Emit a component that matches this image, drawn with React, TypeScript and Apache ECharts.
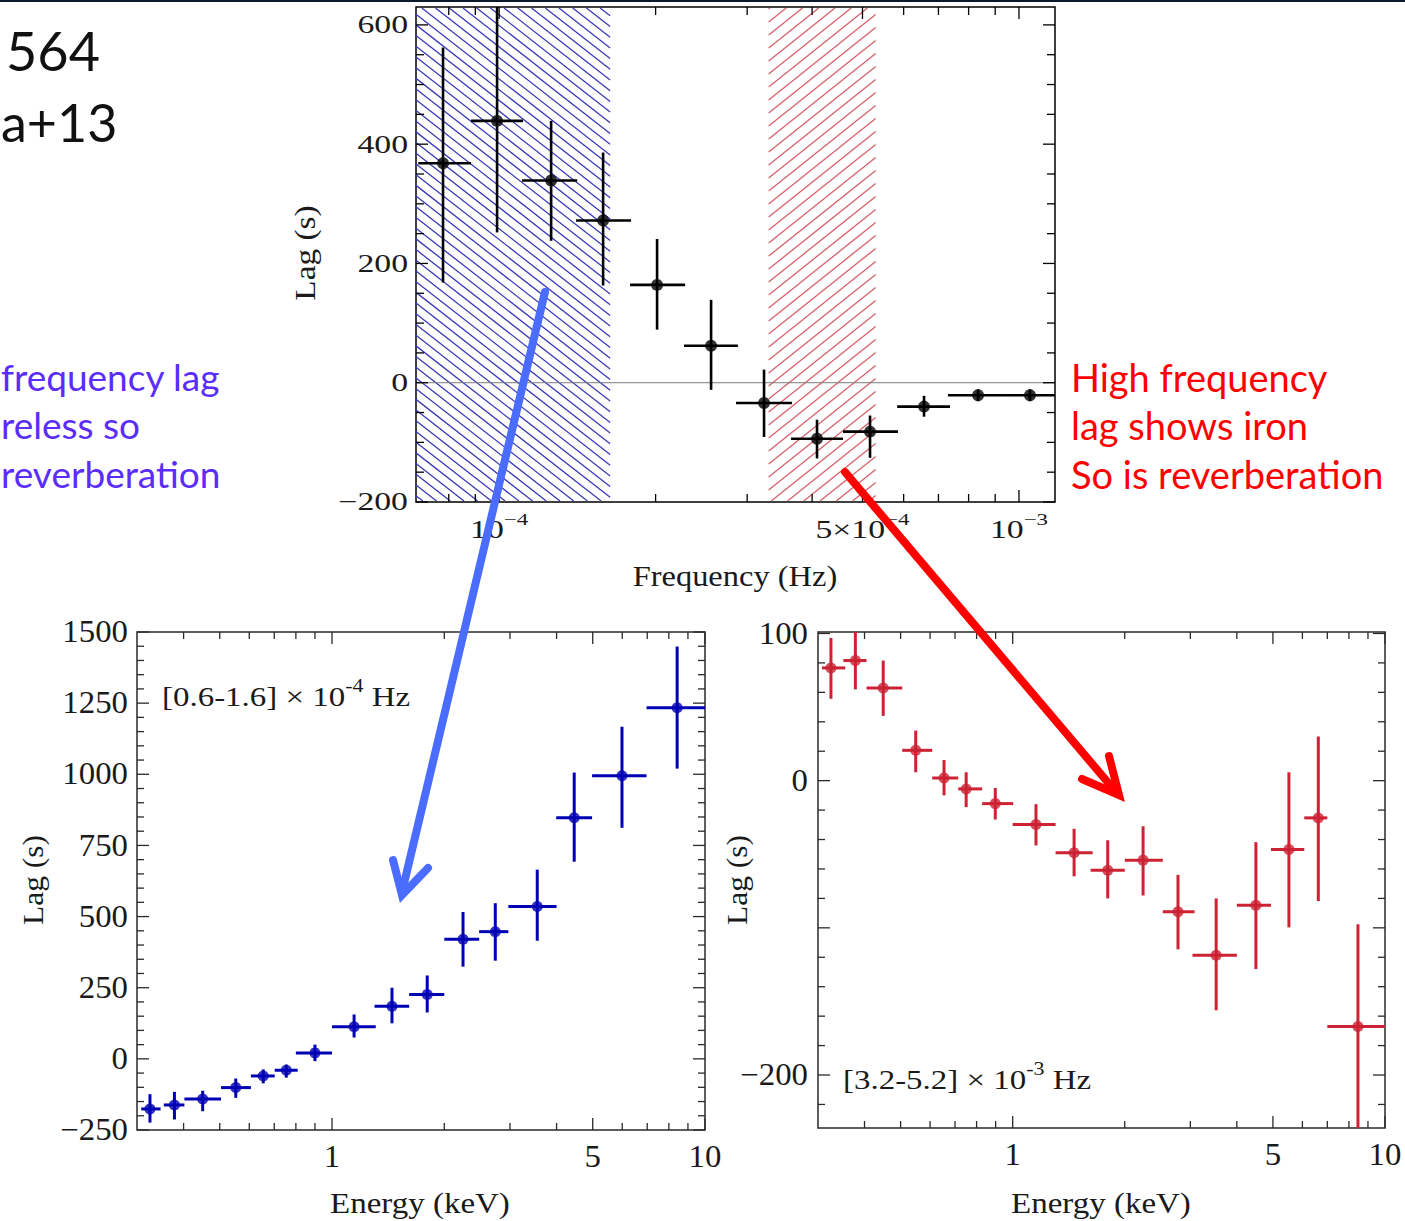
import React, { useEffect, useRef } from "react";
import * as echarts from "echarts";

// ---------------- Top panel: lag vs temporal frequency ----------------
const freqCenter = [7.8e-5, 9.91e-5, 1.259e-4, 1.585e-4, 2.013e-4, 2.557e-4, 3.233e-4, 4.088e-4, 5.17e-4, 6.567e-4, 8.342e-4, 1.05e-3];
const freqLow = [6.99e-5, 8.83e-5, 1.107e-4, 1.406e-4, 1.786e-4, 2.268e-4, 2.856e-4, 3.643e-4, 4.587e-4, 5.83e-4, 7.3e-4, 9.44e-4];
const freqHigh = [8.83e-5, 1.112e-4, 1.413e-4, 1.794e-4, 2.279e-4, 2.88e-4, 3.66e-4, 4.587e-4, 5.85e-4, 7.368e-4, 9.44e-4, 1.178e-3];
const freqLag = [368, 439, 339, 272, 164, 62, -34, -94, -82, -40, -21, -21];
const freqLagLow = [168, 252, 238, 163, 89, -12, -91, -127, -126, -57, -31, -31];
const freqLagHigh = [562, 650, 439, 386, 241, 139, 22, -62, -55, -22, -11, -11];
const lowFreqBand = [6.0e-5, 1.635e-4];
const highFreqBand = [3.3e-4, 5.3e-4];

const freqAxisRange = [6.92e-5, 1.173e-3];
const topLagRange = [-200, 630];
const freqMajorTicks = [1e-4, 5e-4, 1e-3];
const freqMinorTicks = [8e-5, 9e-5, 2e-4, 3e-4, 4e-4, 6e-4, 7e-4, 8e-4, 9e-4];
const freqTickLabels = [
  { value: 1e-4, base: "10", sup: "\u22124" },
  { value: 5e-4, base: "5\u00d710", sup: "\u22124" },
  { value: 1e-3, base: "10", sup: "\u22123" },
];
const topLagMajor = [-200, 0, 200, 400, 600];
const topLagMinor = [-150, -100, -50, 50, 100, 150, 250, 300, 350, 450, 500, 550];
const topLagLabels = [-200, 0, 200, 400, 600];

// ---------------- Bottom-left: lag-energy, [0.6-1.6]e-4 Hz ----------------
const lowEnergy = [0.325, 0.378, 0.45, 0.552, 0.654, 0.754, 0.9, 1.146, 1.448, 1.8, 2.245, 2.74, 3.55, 4.46, 5.99, 8.42];
const lowEnergyLo = [0.308, 0.354, 0.402, 0.504, 0.606, 0.702, 0.8, 1.0, 1.3, 1.61, 2.0, 2.48, 2.97, 3.99, 4.98, 6.97];
const lowEnergyHi = [0.347, 0.402, 0.504, 0.606, 0.702, 0.809, 1.0, 1.31, 1.61, 2.0, 2.48, 2.97, 4.0, 4.98, 6.97, 10.0];
const lowLag = [-176, -162, -141, -101, -60, -40, 21, 113, 185, 226, 420, 447, 535, 847, 995, 1234];
const lowLagLo = [-224, -213, -184, -137, -86, -66, -8, 75, 125, 163, 324, 345, 415, 693, 812, 1020];
const lowLagHi = [-124, -116, -112, -69, -37, -20, 50, 156, 250, 293, 516, 547, 665, 1006, 1167, 1449];

// ---------------- Bottom-right: lag-energy, [3.2-5.2]e-3 Hz ----------------
const highEnergy = [0.325, 0.378, 0.449, 0.549, 0.654, 0.75, 0.898, 1.155, 1.462, 1.8, 2.24, 2.78, 3.52, 4.5, 5.52, 6.62, 8.46];
const highEnergyLo = [0.3075, 0.351, 0.405, 0.505, 0.608, 0.714, 0.828, 1.0, 1.304, 1.62, 2.0, 2.53, 3.04, 4.0, 4.94, 6.07, 7.0];
const highEnergyHi = [0.355, 0.405, 0.505, 0.608, 0.714, 0.828, 1.003, 1.304, 1.64, 2.0, 2.53, 3.08, 4.0, 4.94, 6.07, 7.0, 10.0];
const highLag = [76.6, 81.6, 63, 20.6, 1.8, -5.6, -15.6, -29.8, -49, -60.8, -54, -89, -118.6, -84.7, -46.8, -25.3, -167];
const highLagLo = [55.6, 62, 44, 5.7, -10, -18, -26.4, -44, -65, -80, -78, -114.6, -156, -128, -99.7, -81.8, -245];
const highLagHi = [97, 103, 81.6, 34, 14, 5.7, -5, -16, -32.7, -40.5, -31, -64, -80, -41.8, 5.7, 30, -97.6];

const energyAxisRange = [0.3, 10];
const energyMajorTicks = [1, 5, 10];
const energyMinorTicks = [0.4, 0.5, 0.6, 0.7, 0.8, 0.9, 2, 3, 4, 6, 7, 8, 9];
const energyTickLabels = [
  { value: 1, base: "1" },
  { value: 5, base: "5" },
  { value: 10, base: "10" },
];
const lowLagRange = [-250, 1500];
const lowLagMajor = [-250, 0, 250, 500, 750, 1000, 1250, 1500];
const lowLagMinor = [-200, -150, -100, -50, 50, 100, 150, 200, 300, 350, 400, 450, 550, 600, 650, 700, 800, 850, 900, 950, 1050, 1100, 1150, 1200, 1300, 1350, 1400, 1450];
const lowLagLabels = [-250, 0, 250, 500, 750, 1000, 1250, 1500];
const highLagRange = [-236, 101];
const highLagMajor = [-200, -100, 0, 100];
const highLagMinor = [-220, -180, -160, -140, -120, -80, -60, -40, -20, 20, 40, 60, 80];
const highLagLabels = [-200, 0, 100];

// ---------------- Helpers ----------------
const SERIF = "Liberation Serif";
const SANS = "Lato";

let measureCtx: CanvasRenderingContext2D | null = null;
function textWidth(text: string, size: number, family: string): number {
  if (!measureCtx) measureCtx = document.createElement("canvas").getContext("2d");
  if (!measureCtx) return text.length * size * 0.5;
  measureCtx.font = `${size}px "${family}"`;
  return measureCtx.measureText(text).width;
}

type Part = { t: string; sup?: boolean };

function richText(
  x: number,
  y: number,
  parts: Part[],
  size: number,
  color: string,
  scaleX: number,
  align: "left" | "center" | "right",
  rotation = 0,
  z = 10
): any {
  const supSize = Math.round(size * 0.68);
  const widths = parts.map((p) => textWidth(p.t, p.sup ? supSize : size, SERIF));
  const total = widths.reduce((a, b) => a + b, 0);
  let cursor = align === "left" ? 0 : align === "center" ? -total / 2 : -total;
  const children = parts.map((p, i) => {
    const el = {
      type: "text",
      x: cursor,
      y: p.sup ? -size * 0.42 : 0,
      z,
      style: {
        text: p.t,
        fontSize: p.sup ? supSize : size,
        fontFamily: SERIF,
        fill: color,
        align: "left",
        verticalAlign: "middle",
      },
    };
    cursor += widths[i];
    return el;
  });
  return { type: "group", x, y, scaleX, rotation, z, children };
}

function fmtNum(v: number): string {
  return v < 0 ? "\u2212" + Math.abs(v) : String(v);
}

function hatchLines(L: number, T: number, R: number, B: number, slope: number, spacing: number) {
  const segs: number[][] = [];
  const cs = [T - slope * L, T - slope * R, B - slope * L, B - slope * R];
  const cMin = Math.min(...cs) - spacing;
  const cMax = Math.max(...cs) + spacing;
  const start = Math.floor(cMin / spacing) * spacing;
  for (let c = start; c <= cMax; c += spacing) {
    const xa = (T - c) / slope;
    const xb = (B - c) / slope;
    const x1 = Math.max(L, Math.min(xa, xb));
    const x2 = Math.min(R, Math.max(xa, xb));
    if (x2 > x1) segs.push([x1, slope * x1 + c, x2, slope * x2 + c]);
  }
  return segs;
}

function hatchSeries(band: number[], slope: number, spacing: number, color: string) {
  return {
    type: "custom",
    xAxisIndex: 0,
    yAxisIndex: 0,
    silent: true,
    z: 1,
    data: [[band[0], band[1]]],
    renderItem: (params: any, api: any) => {
      const cs = params.coordSys;
      const L = Math.max(cs.x, api.coord([api.value(0), 0])[0]);
      const R = Math.min(cs.x + cs.width, api.coord([api.value(1), 0])[0]);
      const T = cs.y + 1;
      const B = cs.y + cs.height - 1;
      const segs = hatchLines(L, T, R, B, slope, spacing);
      return {
        type: "group",
        children: segs.map((s) => ({
          type: "line",
          shape: { x1: s[0], y1: s[1], x2: s[2], y2: s[3] },
          style: { stroke: color, lineWidth: 1.3 },
        })),
      };
    },
  };
}

function errorSeries(idx: number, rows: number[][], color: string, width: number) {
  return {
    type: "custom",
    xAxisIndex: idx,
    yAxisIndex: idx,
    silent: true,
    z: 4,
    data: rows,
    renderItem: (params: any, api: any) => {
      const cs = params.coordSys;
      const L = cs.x, T = cs.y, R = cs.x + cs.width, B = cs.y + cs.height;
      const x = api.value(0), y = api.value(1);
      const c = api.coord([x, y]);
      const xl = Math.max(L, api.coord([api.value(2), y])[0]);
      const xh = Math.min(R, api.coord([api.value(3), y])[0]);
      const yl = Math.min(B, api.coord([x, api.value(4)])[1]);
      const yh = Math.max(T, api.coord([x, api.value(5)])[1]);
      return {
        type: "group",
        children: [
          { type: "line", shape: { x1: xl, y1: c[1], x2: xh, y2: c[1] }, style: { stroke: color, lineWidth: width } },
          { type: "line", shape: { x1: c[0], y1: yl, x2: c[0], y2: yh }, style: { stroke: color, lineWidth: width } },
        ],
      };
    },
  };
}

type FrameCfg = {
  xRef: number;
  yRef: number;
  xMajor: number[];
  xMinor: number[];
  yMajor: number[];
  yMinor: number[];
  xLabels: { value: number; base: string; sup?: string }[];
  yLabels: number[];
  color: string;
  labelColor: string;
  majorLen: number;
  minorLen: number;
  tickWidth: number;
  labelSize: number;
  labelScaleX: number;
  xLabelDy: number;
  yLabelGap: number;
  zeroLine?: boolean;
};

function frameSeries(idx: number, cfg: FrameCfg) {
  return {
    type: "custom",
    xAxisIndex: idx,
    yAxisIndex: idx,
    silent: true,
    z: 3,
    data: [[cfg.xRef, cfg.yRef]],
    renderItem: (params: any, api: any) => {
      const cs = params.coordSys;
      const L = cs.x, T = cs.y, R = cs.x + cs.width, B = cs.y + cs.height;
      const ch: any[] = [];
      const seg = (x1: number, y1: number, x2: number, y2: number, stroke: string, w: number) =>
        ch.push({ type: "line", shape: { x1, y1, x2, y2 }, style: { stroke, lineWidth: w } });
      if (cfg.zeroLine) {
        const py = api.coord([cfg.xRef, 0])[1];
        seg(L, py, R, py, "#7a7a7a", 1);
      }
      const xt = (v: number, len: number) => {
        const px = api.coord([v, cfg.yRef])[0];
        seg(px, B, px, B - len, cfg.color, cfg.tickWidth);
        seg(px, T, px, T + len, cfg.color, cfg.tickWidth);
      };
      cfg.xMajor.forEach((v) => xt(v, cfg.majorLen));
      cfg.xMinor.forEach((v) => xt(v, cfg.minorLen));
      const yt = (v: number, len: number) => {
        const py = api.coord([cfg.xRef, v])[1];
        seg(L, py, L + len, py, cfg.color, cfg.tickWidth);
        seg(R, py, R - len, py, cfg.color, cfg.tickWidth);
      };
      cfg.yMajor.forEach((v) => yt(v, cfg.majorLen));
      cfg.yMinor.forEach((v) => yt(v, cfg.minorLen));
      cfg.yLabels.forEach((v) => {
        const py = api.coord([cfg.xRef, v])[1];
        ch.push({
          type: "text",
          x: L - cfg.yLabelGap,
          y: py,
          scaleX: cfg.labelScaleX,
          style: {
            text: fmtNum(v),
            fontSize: cfg.labelSize,
            fontFamily: SERIF,
            fill: cfg.labelColor,
            align: "right",
            verticalAlign: "middle",
          },
        });
      });
      cfg.xLabels.forEach((lb) => {
        const px = api.coord([lb.value, cfg.yRef])[0];
        const parts: Part[] = [{ t: lb.base }];
        if (lb.sup) parts.push({ t: lb.sup, sup: true });
        ch.push(richText(px, B + cfg.xLabelDy, parts, cfg.labelSize, cfg.labelColor, cfg.labelScaleX, "center", 0, 3));
      });
      return { type: "group", children: ch };
    },
  };
}

function rows(c: number[], y: number[], xl: number[], xh: number[], yl: number[], yh: number[]) {
  return c.map((v, i) => [v, y[i], xl[i], xh[i], yl[i], yh[i]]);
}

const TOP_BLACK = "#000000";
const LOW_BLUE = "#0000b4";
const HIGH_RED = "#cc2233";

export default function App() {
  const ref = useRef<HTMLDivElement>(null);

  useEffect(() => {
    document.body.style.margin = "0";
    document.body.style.background = "#ffffff";
    if (!ref.current) return;
    const chart = echarts.init(ref.current, undefined, { renderer: "svg" });

    const bottomFrameBase = {
      color: "#2a2a2a",
      labelColor: "#1a1a1a",
      majorLen: 12,
      minorLen: 7,
      tickWidth: 1.3,
      labelSize: 31,
      labelScaleX: 1.06,
      xLabelDy: 27,
    };

    const option: any = {
      animation: false,
      grid: [
        { left: 416, top: 7, width: 639, height: 495, show: true, borderColor: "#000", borderWidth: 1.5 },
        { left: 137, top: 632, width: 568, height: 498, show: true, borderColor: "#2a2a2a", borderWidth: 1.5 },
        { left: 818, top: 632, width: 567, height: 496, show: true, borderColor: "#2a2a2a", borderWidth: 1.5 },
      ],
      xAxis: [
        { type: "log", logBase: 10, gridIndex: 0, min: freqAxisRange[0], max: freqAxisRange[1], show: false },
        { type: "log", logBase: 10, gridIndex: 1, min: energyAxisRange[0], max: energyAxisRange[1], show: false },
        { type: "log", logBase: 10, gridIndex: 2, min: energyAxisRange[0], max: energyAxisRange[1], show: false },
      ],
      yAxis: [
        { type: "value", gridIndex: 0, min: topLagRange[0], max: topLagRange[1], show: false },
        { type: "value", gridIndex: 1, min: lowLagRange[0], max: lowLagRange[1], show: false },
        { type: "value", gridIndex: 2, min: highLagRange[0], max: highLagRange[1], show: false },
      ],
      series: [
        hatchSeries(lowFreqBand, 0.78, 10.7, "#3a3ab8"),
        hatchSeries(highFreqBand, -0.8, 13, "#d8606c"),
        frameSeries(0, {
          xRef: freqCenter[0],
          yRef: 0,
          xMajor: freqMajorTicks,
          xMinor: freqMinorTicks,
          yMajor: topLagMajor,
          yMinor: topLagMinor,
          xLabels: freqTickLabels,
          yLabels: topLagLabels,
          color: "#000",
          labelColor: "#1a1a1a",
          majorLen: 12,
          minorLen: 8,
          tickWidth: 1.3,
          labelSize: 25,
          labelScaleX: 1.35,
          xLabelDy: 28,
          yLabelGap: 8,
          zeroLine: true,
        }),
        frameSeries(1, {
          ...bottomFrameBase,
          xRef: 1,
          yRef: 0,
          xMajor: energyMajorTicks,
          xMinor: energyMinorTicks,
          yMajor: lowLagMajor,
          yMinor: lowLagMinor,
          xLabels: energyTickLabels,
          yLabels: lowLagLabels,
          yLabelGap: 9,
        }),
        frameSeries(2, {
          ...bottomFrameBase,
          xRef: 1,
          yRef: 0,
          xMajor: energyMajorTicks,
          xMinor: energyMinorTicks,
          yMajor: highLagMajor,
          yMinor: highLagMinor,
          xLabels: energyTickLabels,
          yLabels: highLagLabels,
          yLabelGap: 10,
        }),
        errorSeries(0, rows(freqCenter, freqLag, freqLow, freqHigh, freqLagLow, freqLagHigh), TOP_BLACK, 2.6),
        errorSeries(1, rows(lowEnergy, lowLag, lowEnergyLo, lowEnergyHi, lowLagLo, lowLagHi), LOW_BLUE, 3),
        errorSeries(2, rows(highEnergy, highLag, highEnergyLo, highEnergyHi, highLagLo, highLagHi), HIGH_RED, 3),
        {
          type: "scatter",
          xAxisIndex: 0,
          yAxisIndex: 0,
          silent: true,
          z: 5,
          symbolSize: 12,
          itemStyle: { color: TOP_BLACK },
          data: freqCenter.map((f, i) => [f, freqLag[i]]),
        },
        {
          type: "scatter",
          xAxisIndex: 1,
          yAxisIndex: 1,
          silent: true,
          z: 5,
          symbolSize: 11,
          itemStyle: { color: LOW_BLUE },
          data: lowEnergy.map((e, i) => [e, lowLag[i]]),
        },
        {
          type: "scatter",
          xAxisIndex: 2,
          yAxisIndex: 2,
          silent: true,
          z: 5,
          symbolSize: 11,
          itemStyle: { color: HIGH_RED },
          data: highEnergy.map((e, i) => [e, highLag[i]]),
        },
      ],
      graphic: {
        elements: [
          { type: "rect", shape: { x: 0, y: 0, width: 1405, height: 2 }, style: { fill: "#0b1a2e" }, z: 50 },
          // slide texts
          { type: "text", x: 100, y: 50, style: { text: "564", fontSize: 54, fontFamily: SANS, fill: "#111111", align: "right", verticalAlign: "middle" } },
          { type: "text", x: 1, y: 122, style: { text: "a+13", fontSize: 52, fontFamily: SANS, fill: "#111111", align: "left", verticalAlign: "middle" } },
          { type: "text", x: 1, y: 376, style: { text: "frequency lag", fontSize: 37, fontFamily: SANS, fill: "#5a2dfa", align: "left", verticalAlign: "middle" } },
          { type: "text", x: 1, y: 424, style: { text: "reless so", fontSize: 37, fontFamily: SANS, fill: "#5a2dfa", align: "left", verticalAlign: "middle" } },
          { type: "text", x: 1, y: 473, style: { text: "reverberation", fontSize: 37, fontFamily: SANS, fill: "#5a2dfa", align: "left", verticalAlign: "middle" } },
          { type: "text", x: 1071, y: 377, style: { text: "High frequency", fontSize: 38, fontFamily: SANS, fill: "#ff0000", align: "left", verticalAlign: "middle" } },
          { type: "text", x: 1071, y: 425, style: { text: "lag shows iron", fontSize: 38, fontFamily: SANS, fill: "#ff0000", align: "left", verticalAlign: "middle" } },
          { type: "text", x: 1071, y: 474, style: { text: "So is reverberation", fontSize: 38, fontFamily: SANS, fill: "#ff0000", align: "left", verticalAlign: "middle" } },
          // axis titles
          richText(735, 577, [{ t: "Frequency (Hz)" }], 29, "#1a1a1a", 1.12, "center"),
          richText(305, 253, [{ t: "Lag (s)" }], 29, "#1a1a1a", 1.15, "center", Math.PI / 2),
          richText(420, 1203, [{ t: "Energy (keV)" }], 30, "#1a1a1a", 1.1, "center"),
          richText(1101, 1203, [{ t: "Energy (keV)" }], 30, "#1a1a1a", 1.1, "center"),
          richText(33, 880, [{ t: "Lag (s)" }], 30, "#1a1a1a", 1.05, "center", Math.PI / 2),
          richText(737, 880, [{ t: "Lag (s)" }], 30, "#1a1a1a", 1.05, "center", Math.PI / 2),
          // panel annotations
          richText(162, 697, [{ t: "[0.6-1.6] \u00d7 10" }, { t: "-4", sup: true }, { t: " Hz" }], 27, "#1a1a1a", 1.22, "left"),
          richText(843, 1080, [{ t: "[3.2-5.2] \u00d7 10" }, { t: "-3", sup: true }, { t: " Hz" }], 27, "#1a1a1a", 1.22, "left"),
          // arrows
          {
            type: "line",
            z: 100,
            shape: { x1: 545, y1: 292, x2: 402, y2: 892 },
            style: { stroke: "#4a6cff", lineWidth: 8, lineCap: "round" },
          },
          {
            type: "polyline",
            z: 100,
            shape: { points: [[393, 860], [402, 895], [428, 868]] },
            style: { stroke: "#4a6cff", lineWidth: 8, lineCap: "round", lineJoin: "miter", fill: null },
          },
          {
            type: "line",
            z: 100,
            shape: { x1: 845, y1: 472, x2: 1116, y2: 792 },
            style: { stroke: "#ff0000", lineWidth: 8, lineCap: "round" },
          },
          {
            type: "polyline",
            z: 100,
            shape: { points: [[1109, 756], [1119, 795], [1082, 779]] },
            style: { stroke: "#ff0000", lineWidth: 8, lineCap: "round", lineJoin: "miter", fill: null },
          },
        ],
      },
    };

    chart.setOption(option);
    return () => {
      chart.dispose();
    };
  }, []);

  return <div ref={ref} style={{ width: 1405, height: 1221 }} />;
}
